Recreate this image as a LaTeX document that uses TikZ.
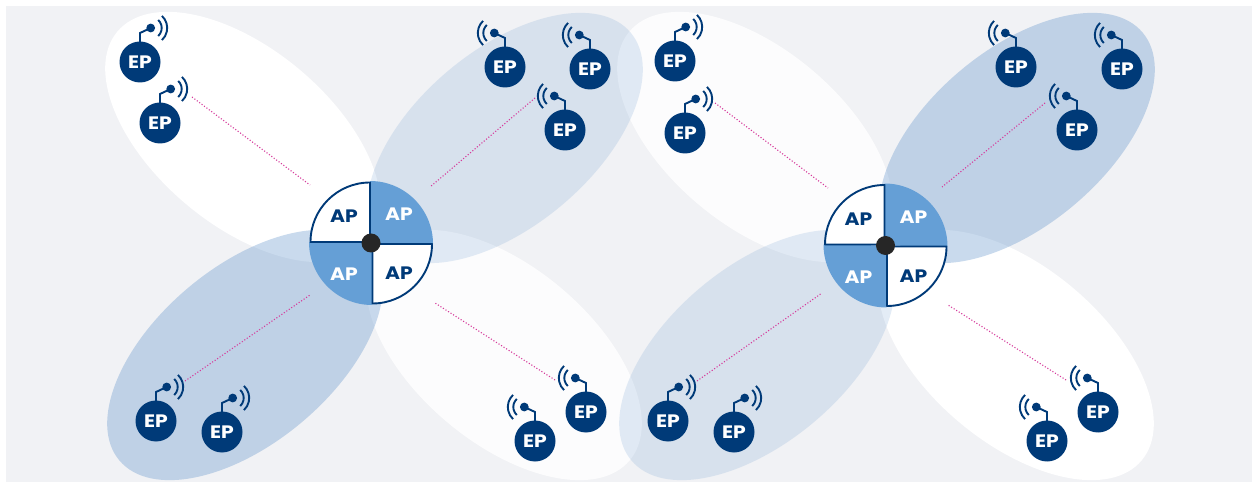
\documentclass[tikz,border=0pt]{standalone}
\usepackage{fontspec}
\setmainfont{Poppins}[FakeStretch=1.13]
\usepackage{tikz}
\usetikzlibrary{positioning}

\definecolor{navy}{HTML}{003A78}
\definecolor{apblue}{HTML}{659FD6}
\definecolor{petal}{RGB}{70,130,195}
\definecolor{backgr}{HTML}{F1F2F5}
\definecolor{linkpink}{HTML}{D63C9C}

\tikzset{
  ep/.style={circle, fill=navy, text=white, minimum size=41pt, inner sep=0pt, font=\bfseries\fontsize{18}{18}\selectfont},
  aplabel/.style={inner sep=0pt, font=\bfseries\fontsize{18}{18}\selectfont},
  wire/.style={draw=navy, line width=1.9pt},
  quad/.style={draw=navy, line width=1.9pt, fill=white, line join=round},
  link/.style={draw=linkpink, line width=1.1pt, dash pattern=on 1.1pt off 1.9pt},
  whitepetal/.style={fill=white, opacity=#1},
  bluepetal/.style={fill=petal, opacity=#1},
  antenna/.pic={
    \draw[wire] (0,20) -- (0,29) -- (10.7,34);
    \fill[navy] (10.7,34) circle (4.4pt);
    \draw[wire] (10.7,34) ++(47:11pt) arc[start angle=47, end angle=-47, radius=11pt];
    \draw[wire] (10.7,34) ++(47:16.5pt) arc[start angle=47, end angle=-47, radius=16.5pt];
  }
}

\begin{document}
\begin{tikzpicture}[x=1pt, y=1pt]
   \useasboundingbox (0,0) rectangle (1252,482);
   \fill[backgr] (6,0) rectangle (1252,476);

   % petals, white ones go underneath
   \foreach \dx/\tl/\br in {0/1/.8, 512/.8/1} {
     \fill[whitepetal=\tl, rotate around={-40:(243+\dx,345)}] (243+\dx,345) ellipse (164pt and 88pt);
     \fill[whitepetal=\br, rotate around={-40:(504+\dx,127)}] (504+\dx,127) ellipse (164pt and 88pt);
   }
   \foreach \dx/\tr/\bl in {0/.15/.29, 512/.29/.15} {
     \fill[bluepetal=\tr, rotate around={40:(505+\dx,344)}] (505+\dx,344) ellipse (164pt and 88pt);
     \fill[bluepetal=\bl, rotate around={40:(245+\dx,127)}] (245+\dx,127) ellipse (164pt and 88pt);
   }

   % end points
   \foreach \n/\px/\py/\s in {
     e1/140/420/1, e2/160/359/1, e3/505/415/-1, e4/590/413/-1, e5/565/352/-1,
     e6/156/61/1, e7/222/50/1, e8/586/70/-1, e9/535/41/-1,
     f1/675/421/1, f2/685/349/1, f3/1016/415/-1, f4/1122/413/-1, f5/1077/352/-1,
     f6/668/61/1, f7/734/50/1, f8/1098/70/-1, f9/1047/41/-1} {
     \node[ep] (\n) at (\px,\py) {EP};
     \pic[xscale=\s] at (\n) {antenna};
   }

   % access points
   \foreach \k/\cx/\cy in {a/371/239, b/885.5/236.5} {
     \begin{scope}[shift={(\cx,\cy)}]
       \fill[apblue] (-1,0) -- (-1,62) arc[start angle=90, end angle=0, radius=63pt] -- cycle;
       \fill[apblue] (1,0) -- (1,-62) arc[start angle=-90, end angle=-180, radius=63pt] -- cycle;
       \draw[quad] (-1,1) -- (-60.5,1) arc[start angle=180, end angle=90, radius=59.5pt] -- cycle;
       \draw[quad] (1.5,-1) -- (61,-1) arc[start angle=0, end angle=-90, radius=59.5pt] -- cycle;
       \node[aplabel, text=navy]  (ap1\k) at (-27,26.5)  {AP};
       \node[aplabel, text=white] (ap2\k) at (28,28.5)   {AP};
       \node[aplabel, text=white] (ap3\k) at (-27,-31.5) {AP};
       \node[aplabel, text=navy]  (ap4\k) at (28,-30.5)  {AP};
       \node[circle, fill=black!85, minimum size=19pt, inner sep=0pt] (hub\k) at (0,0) {};
     \end{scope}
   }

   % links
   \foreach \n/\ax/\ay/\bx/\by in {
     la/192/385/310/297, lb/535/384/430/295, lc/185/101/310/187, ld/555/102/435/179,
     lf/715/379/828/294, lg/1045/379/942/295, lh/697/101/822/189, li/1066/102/948/177} {
     \coordinate (\n s) at (\ax,\ay);
     \coordinate (\n t) at (\bx,\by);
     \draw[link] (\n s) -- (\n t);
   }
\end{tikzpicture}
\end{document}
